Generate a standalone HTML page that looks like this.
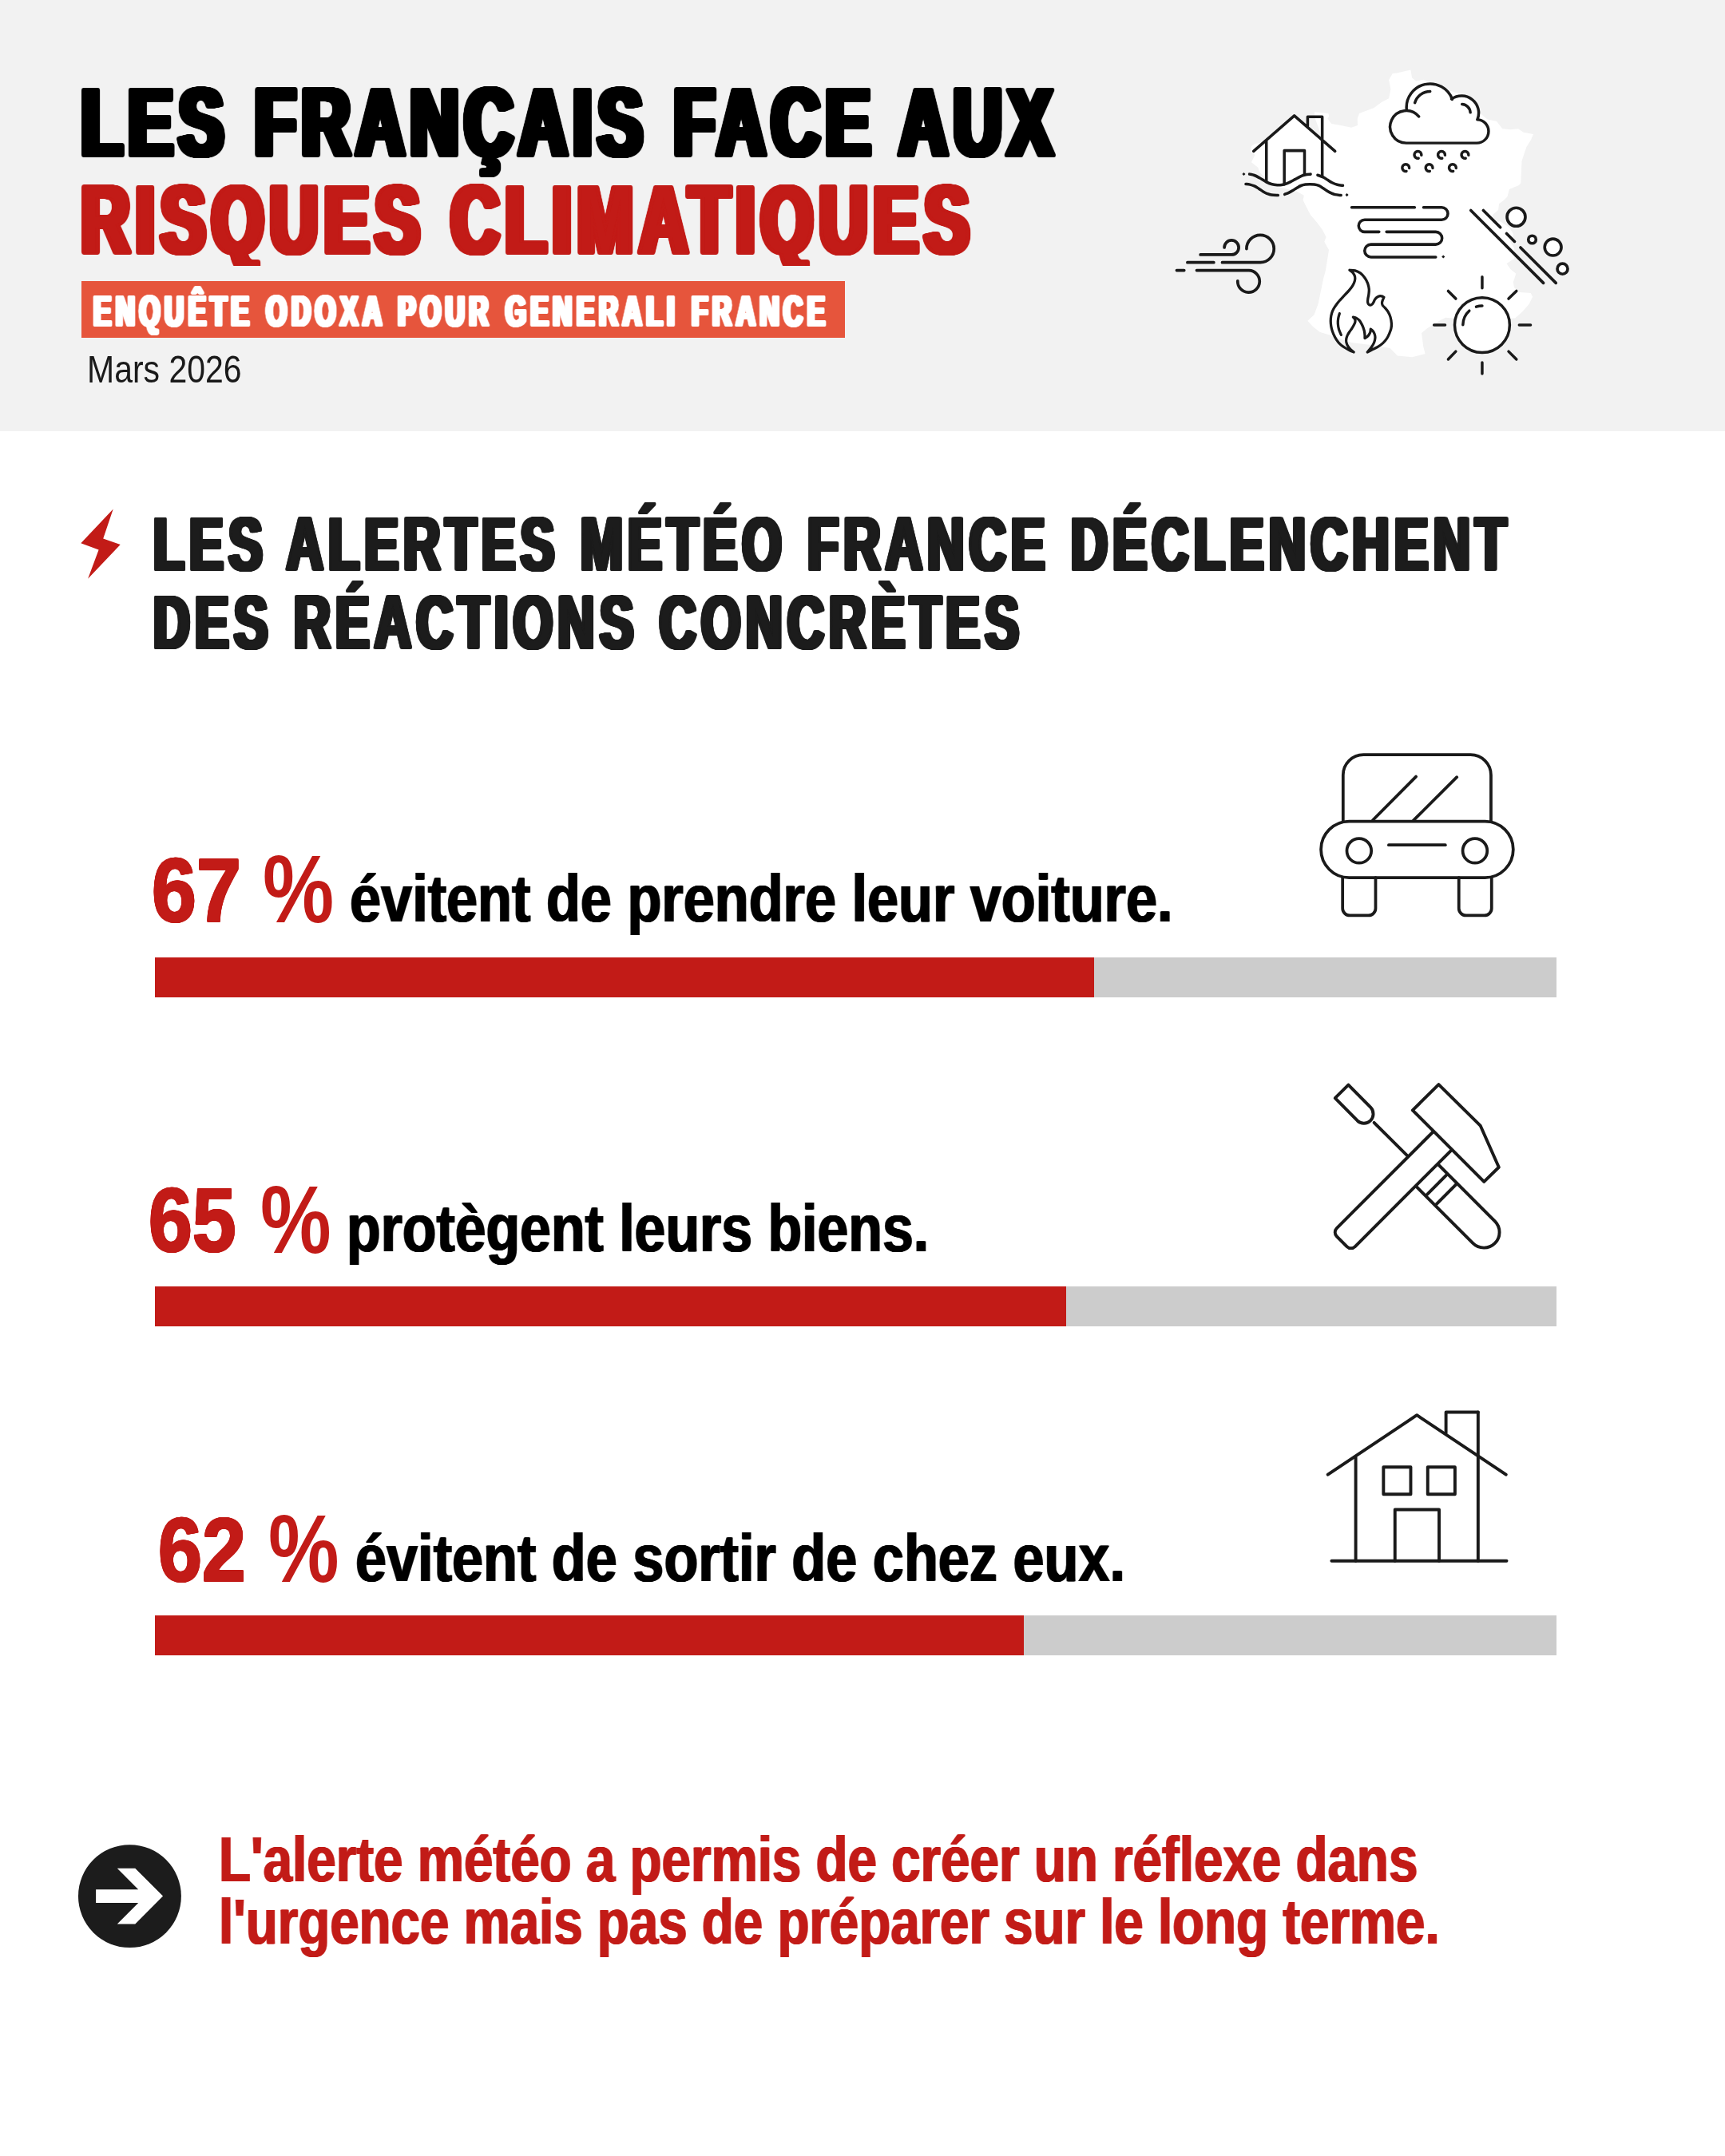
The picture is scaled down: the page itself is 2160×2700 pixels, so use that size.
<!DOCTYPE html>
<html lang="fr"><head><meta charset="utf-8"><title>Les Français face aux risques climatiques</title>
<style>
html,body{margin:0;padding:0;background:#fff}
body{width:2160px;height:2700px;position:relative;overflow:hidden;font-family:"Liberation Sans",sans-serif}
.hdr{position:absolute;left:0;top:0;width:2160px;height:539.5px;background:#F2F2F2}
.t{position:absolute;white-space:pre;transform-origin:0 0;font-family:"Liberation Sans",sans-serif}
.tag{position:absolute;left:102px;top:351.7px;width:955.6px;height:71.3px;background:#E6553C}
.bar{position:absolute;left:193.6px;width:1755.4px;height:50px;background:#CCCCCC}
.bar div{height:100%;background:#C21B17}
svg{position:absolute;overflow:visible}
</style></head><body>
<div class="hdr"></div>
<svg style="left:0;top:0" width="2160" height="540" viewBox="0 0 2160 540" fill="none" stroke="#1A1A1A" stroke-linecap="round" stroke-linejoin="round">
<path fill="#fff" stroke="none" d="M1766.4 87.5 L1768.1 97.4 L1773.3 101.4 L1782.6 99.7 L1789.6 103.2 L1810.0 112.0 L1830.0 118.0 L1845.0 135.0 L1862.6 149.6 L1874.2 151.9 L1881.2 161.2 L1891.6 162.3 L1900.9 161.2 L1907.8 165.8 L1920.0 168.1 L1917.1 175.1 L1911.3 184.3 L1905.5 201.7 L1904.3 229.6 L1901.4 232.3 L1889.9 237.0 L1887.5 246.2 L1883.9 250.0 L1877.0 255.2 L1876.1 263.0 L1869.1 269.1 L1868.3 280.4 L1878.0 277.0 L1890.0 284.8 L1895.2 293.5 L1890.9 302.2 L1896.1 310.9 L1896.1 323.9 L1886.5 330.0 L1891.3 337.0 L1898.3 342.8 L1894.8 353.2 L1895.9 360.1 L1902.9 365.9 L1916.8 367.1 L1919.1 371.7 L1914.5 381.0 L1906.4 390.3 L1897.1 398.4 L1860.0 400.0 L1819.4 398.4 L1810.1 397.8 L1803.2 401.3 L1787.0 411.2 L1780.0 417.0 L1782.3 434.3 L1784.6 443.0 L1768.4 447.2 L1749.9 445.4 L1740.6 436.1 L1712.8 431.4 L1691.9 429.1 L1666.4 419.9 L1652.5 415.7 L1643.2 408.3 L1637.4 401.8 L1645.5 394.3 L1650.6 380.4 L1657.1 349.1 L1659.9 338.7 L1664.0 313.0 L1658.3 302.8 L1660.6 297.0 L1655.9 287.7 L1649.0 278.4 L1640.9 269.1 L1636.2 259.9 L1631.6 250.6 L1632.8 244.8 L1623.5 239.5 L1592.0 232.0 L1577.1 215.3 L1575.3 209.8 L1566.9 203.3 L1571.5 194.0 L1566.0 189.4 L1566.9 182.9 L1571.5 180.1 L1600.0 176.0 L1630.0 172.0 L1654.1 170.8 L1651.3 160.6 L1646.7 148.6 L1645.8 140.2 L1663.4 142.1 L1664.3 145.8 L1662.4 148.6 L1667.1 155.0 L1679.1 156.9 L1692.1 159.7 L1700.0 156.9 L1699.7 148.8 L1702.0 141.9 L1720.6 134.9 L1729.9 128.0 L1739.1 123.3 L1741.4 111.7 L1739.1 100.1 L1743.8 92.0 L1749.0 91.6Z"/>
<g transform="translate(1720 80) scale(0.115942)" stroke-width="30"><path d="M353 855A175 175 0 0 1 353 505L356 492L356.0 492.2A255 255 0 0 1 849.6 382.8L841.3 380.3A185 185 0 0 1 1121.5 599.3L1119.4 601.1A127 127 0 0 1 1115.0 855.0Z" fill="#fff" stroke="none"/><path d="M353.0 855.0A175 175 0 1 1 488.2 568.9 M356.0 492.2A255 255 0 0 1 849.6 382.8 M841.3 380.3A185 185 0 0 1 1121.5 599.3 M1119.4 601.1A127 127 0 0 1 1115.0 855.0L353 855"/><path d="M445.5 419.7A172 172 0 0 1 610.0 298.0 M955.0 435.1A95 95 0 0 1 1044.9 525.0"/><path d="M515.9 985.3A38 38 0 1 0 484.6 1019.4"/><path d="M770.9 985.3A38 38 0 1 0 739.6 1019.4"/><path d="M1024.9 985.3A38 38 0 1 0 993.6 1019.4"/><path d="M384.9 1125.3A38 38 0 1 0 353.6 1159.4"/><path d="M637.9 1125.3A38 38 0 1 0 606.6 1159.4"/><path d="M890.9 1125.3A38 38 0 1 0 859.6 1159.4"/></g>
<g transform="translate(1780 330) scale(0.115942)" stroke-width="30"><circle cx="655" cy="665" r="297" fill="#fff"/><path d="M655 145V265M655 1070V1190M135 665H255M1055 665H1178M288 297L370 380M1025 297L940 380M288 1035L370 950M1025 1035L940 950"/><path d="M447.0 661.4A208 208 0 0 1 515.8 510.4 M590.7 467.2A208 208 0 0 1 655.0 457.0"/></g>
<g transform="translate(1830 250) scale(0.086957)" stroke-width="42"><path d="M135 155L1180 1200M315 155L560 400M650 488L765 603M850 690L1360 1200"/><circle cx="788" cy="250" r="132" fill="#fff"/><circle cx="1018" cy="575" r="55" fill="#fff"/><circle cx="1318" cy="685" r="120" fill="#fff"/><circle cx="1455" cy="997" r="75" fill="#fff"/></g>
<g transform="translate(1680 240) scale(0.092754)" stroke-width="38"><path d="M135 213H985M1105 213H1350A84 84 0 0 1 1350 381H310A81 81 0 0 0 310 543H505M605 543H1270A85 85 0 0 1 1270 713H395A85 85 0 0 0 395 883H1270"/><path d="M1372 856l22 22l-22 22l-22-22Z" fill="#1A1A1A" stroke="none"/></g>
<g transform="translate(1460 280) scale(0.092754)" stroke-width="40"><path d="M465 420H885A97 97 0 1 0 788 323M290 525H645M760 525H1275A185 185 0 1 0 1088 340M145 632H245M415 632H1120A148 148 0 1 1 968 775"/></g>
<g transform="translate(1540 130) scale(0.092754)" stroke-width="38"><path d="M493 500L870 175L1247 500L1247 985L1090 950L1040 953L990 965L935 990L880 1020L820 1052L760 1080L700 1095L640 1097L560 1083L493 1055Z" fill="#fff" stroke="none"/><path d="M320 640L870 160L1420 640M493 500V1055M1247 175V970M1050 300V175H1247M735 1085V632H1008V948" /><path d="M265.0 950.0C275.8 952.5 307.5 956.7 330.0 965.0C352.5 973.3 372.8 985.0 400.0 1000.0C427.2 1015.0 466.3 1041.2 493.0 1055.0C519.7 1068.8 535.5 1076.0 560.0 1083.0C584.5 1090.0 616.7 1095.0 640.0 1097.0C663.3 1099.0 680.0 1097.8 700.0 1095.0C720.0 1092.2 740.0 1087.2 760.0 1080.0C780.0 1072.8 800.0 1062.0 820.0 1052.0C840.0 1042.0 860.8 1030.3 880.0 1020.0C899.2 1009.7 916.7 999.2 935.0 990.0C953.3 980.8 972.5 971.2 990.0 965.0C1007.5 958.8 1023.3 955.5 1040.0 953.0C1056.7 950.5 1081.7 950.5 1090.0 950.0 M1185.0 962.0C1197.5 966.7 1237.5 979.0 1260.0 990.0C1282.5 1001.0 1300.0 1015.5 1320.0 1028.0C1340.0 1040.5 1358.3 1054.3 1380.0 1065.0C1401.7 1075.7 1425.8 1085.7 1450.0 1092.0C1474.2 1098.3 1512.5 1101.2 1525.0 1103.0 M215.0 1083.0C224.2 1084.2 250.8 1085.5 270.0 1090.0C289.2 1094.5 310.0 1100.8 330.0 1110.0C350.0 1119.2 370.0 1132.5 390.0 1145.0C410.0 1157.5 430.8 1173.7 450.0 1185.0C469.2 1196.3 486.7 1205.5 505.0 1213.0C523.3 1220.5 535.8 1226.3 560.0 1230.0C584.2 1233.7 635.0 1234.2 650.0 1235.0 M740.0 1222.0C749.2 1218.3 776.7 1208.7 795.0 1200.0C813.3 1191.3 831.7 1180.8 850.0 1170.0C868.3 1159.2 886.7 1145.8 905.0 1135.0C923.3 1124.2 940.8 1112.5 960.0 1105.0C979.2 1097.5 1000.0 1093.3 1020.0 1090.0C1040.0 1086.7 1060.0 1085.0 1080.0 1085.0C1100.0 1085.0 1120.0 1086.7 1140.0 1090.0C1160.0 1093.3 1180.0 1096.7 1200.0 1105.0C1220.0 1113.3 1240.0 1127.5 1260.0 1140.0C1280.0 1152.5 1301.7 1168.8 1320.0 1180.0C1338.3 1191.2 1353.3 1199.5 1370.0 1207.0C1386.7 1214.5 1398.3 1220.3 1420.0 1225.0C1441.7 1229.7 1486.7 1233.3 1500.0 1235.0"/><path d="M188 926l22 22l-22 22l-22-22ZM1580 1208l22 22l-22 22l-22-22Z" fill="#1A1A1A" stroke="none"/></g>
<g transform="translate(1640 320) scale(0.081160)" stroke-width="40"><path d="M615.0 225.0C629.2 226.2 672.5 224.5 700.0 232.0C727.5 239.5 755.0 251.2 780.0 270.0C805.0 288.8 830.8 318.3 850.0 345.0C869.2 371.7 884.2 400.8 895.0 430.0C905.8 459.2 912.5 491.7 915.0 520.0C917.5 548.3 913.0 575.0 910.0 600.0C907.0 625.0 899.5 650.0 897.0 670.0C894.5 690.0 892.8 705.8 895.0 720.0C897.2 734.2 903.3 747.5 910.0 755.0C916.7 762.5 925.8 765.8 935.0 765.0C944.2 764.2 956.7 757.5 965.0 750.0C973.3 742.5 978.3 731.7 985.0 720.0C991.7 708.3 997.5 691.7 1005.0 680.0C1012.5 668.3 1020.8 658.3 1030.0 650.0C1039.2 641.7 1050.0 634.2 1060.0 630.0C1070.0 625.8 1080.0 625.0 1090.0 625.0C1100.0 625.0 1110.8 626.7 1120.0 630.0C1129.2 633.3 1140.8 642.5 1145.0 645.0 M1145.0 645.0C1141.7 652.5 1130.0 675.8 1125.0 690.0C1120.0 704.2 1115.0 716.7 1115.0 730.0C1115.0 743.3 1117.5 757.5 1125.0 770.0C1132.5 782.5 1145.8 788.3 1160.0 805.0C1174.2 821.7 1195.8 845.8 1210.0 870.0C1224.2 894.2 1236.3 920.0 1245.0 950.0C1253.7 980.0 1260.3 1020.0 1262.0 1050.0C1263.7 1080.0 1260.3 1105.0 1255.0 1130.0C1249.7 1155.0 1240.8 1175.0 1230.0 1200.0C1219.2 1225.0 1206.7 1255.0 1190.0 1280.0C1173.3 1305.0 1153.3 1328.3 1130.0 1350.0C1106.7 1371.7 1078.3 1392.5 1050.0 1410.0C1021.7 1427.5 986.7 1441.7 960.0 1455.0C933.3 1468.3 901.7 1484.2 890.0 1490.0 M615.0 225.0C624.2 232.5 656.2 252.5 670.0 270.0C683.8 287.5 693.8 310.0 698.0 330.0C702.2 350.0 700.5 368.3 695.0 390.0C689.5 411.7 679.2 435.8 665.0 460.0C650.8 484.2 632.5 508.3 610.0 535.0C587.5 561.7 553.3 595.0 530.0 620.0C506.7 645.0 488.3 664.2 470.0 685.0C451.7 705.8 436.7 722.5 420.0 745.0C403.3 767.5 383.3 795.8 370.0 820.0C356.7 844.2 347.5 865.0 340.0 890.0C332.5 915.0 327.5 943.3 325.0 970.0C322.5 996.7 322.8 1023.3 325.0 1050.0C327.2 1076.7 331.3 1103.3 338.0 1130.0C344.7 1156.7 353.0 1182.5 365.0 1210.0C377.0 1237.5 392.5 1268.3 410.0 1295.0C427.5 1321.7 448.3 1349.2 470.0 1370.0C491.7 1390.8 516.7 1405.0 540.0 1420.0C563.3 1435.0 586.7 1448.3 610.0 1460.0C633.3 1471.7 668.3 1485.0 680.0 1490.0 M680.0 1490.0C671.7 1483.3 645.0 1465.0 630.0 1450.0C615.0 1435.0 600.8 1418.3 590.0 1400.0C579.2 1381.7 569.2 1360.0 565.0 1340.0C560.8 1320.0 561.7 1299.2 565.0 1280.0C568.3 1260.8 576.7 1242.5 585.0 1225.0C593.3 1207.5 604.2 1191.7 615.0 1175.0C625.8 1158.3 639.2 1141.7 650.0 1125.0C660.8 1108.3 671.7 1090.8 680.0 1075.0C688.3 1059.2 696.7 1044.2 700.0 1030.0C703.3 1015.8 705.0 1003.3 700.0 990.0C695.0 976.7 675.0 956.7 670.0 950.0 M670.0 950.0C678.3 952.5 704.2 956.7 720.0 965.0C735.8 973.3 751.7 985.0 765.0 1000.0C778.3 1015.0 790.0 1036.7 800.0 1055.0C810.0 1073.3 817.8 1090.8 825.0 1110.0C832.2 1129.2 838.8 1150.0 843.0 1170.0C847.2 1190.0 848.8 1212.5 850.0 1230.0C851.2 1247.5 850.0 1267.5 850.0 1275.0 M850.0 1275.0C855.8 1271.7 874.2 1264.2 885.0 1255.0C895.8 1245.8 906.7 1232.5 915.0 1220.0C923.3 1207.5 930.8 1194.2 935.0 1180.0C939.2 1165.8 939.2 1142.5 940.0 1135.0 M940.0 1135.0C945.8 1140.0 965.0 1152.5 975.0 1165.0C985.0 1177.5 994.2 1194.2 1000.0 1210.0C1005.8 1225.8 1009.5 1243.3 1010.0 1260.0C1010.5 1276.7 1007.2 1293.3 1003.0 1310.0C998.8 1326.7 993.0 1343.3 985.0 1360.0C977.0 1376.7 965.8 1394.2 955.0 1410.0C944.2 1425.8 930.8 1441.7 920.0 1455.0C909.2 1468.3 895.0 1484.2 890.0 1490.0 M460.0 895.0C456.7 907.5 444.2 944.2 440.0 970.0C435.8 995.8 433.3 1021.7 435.0 1050.0C436.7 1078.3 441.7 1110.8 450.0 1140.0C458.3 1169.2 479.2 1210.8 485.0 1225.0"/></g>
</svg>
<div class="tag"></div>
<div class="t" style="left:102.32px;top:93.59px;font-size:120.72px;line-height:120.72px;font-weight:700;color:#000;transform:scaleX(0.6900);letter-spacing:11.293px;word-spacing:1.449px;filter:drop-shadow(1px 0 0 #000) drop-shadow(-1px 0 0 #000) drop-shadow(3px 0 0 #000) drop-shadow(-3px 0 0 #000) drop-shadow(2px 0 0 #000) drop-shadow(-2px 0 0 #000) drop-shadow(0 1px 0 #000) drop-shadow(0 -1px 0 #000) drop-shadow(0 1px 0 #000) drop-shadow(0 -1px 0 #000)">LES FRANÇAIS FACE AUX</div>
<div class="t" style="left:102.32px;top:215.15px;font-size:120.29px;line-height:120.29px;font-weight:700;color:#C21B17;transform:scaleX(0.6900);letter-spacing:11.992px;filter:drop-shadow(1px 0 0 #C21B17) drop-shadow(-1px 0 0 #C21B17) drop-shadow(3px 0 0 #C21B17) drop-shadow(-3px 0 0 #C21B17) drop-shadow(2px 0 0 #C21B17) drop-shadow(-2px 0 0 #C21B17) drop-shadow(0 1px 0 #C21B17) drop-shadow(0 -1px 0 #C21B17) drop-shadow(0 1px 0 #C21B17) drop-shadow(0 -1px 0 #C21B17);clip-path:inset(-10px -30px 2.5px -30px)">RISQUES CLIMATIQUES</div>
<div class="t" style="left:117.20px;top:362.56px;font-size:54.49px;line-height:54.49px;font-weight:700;color:#fff;transform:scaleX(0.6100);letter-spacing:9.315px;word-spacing:1.639px;filter:drop-shadow(1px 0 0 #fff) drop-shadow(-1px 0 0 #fff) drop-shadow(2px 0 0 #fff) drop-shadow(-2px 0 0 #fff) drop-shadow(0 1px 0 #fff) drop-shadow(0 -1px 0 #fff)">ENQUÊTE ODOXA POUR GENERALI FRANCE</div>
<div class="t" style="left:108.82px;top:437.98px;font-size:48.55px;line-height:48.55px;font-weight:400;color:#1A1A1A;transform:scaleX(0.8439)">Mars 2026</div>
<div class="t" style="left:192.25px;top:635.40px;font-size:94.2px;line-height:94.2px;font-weight:700;color:#1C1C1C;transform:scaleX(0.6750);letter-spacing:9.570px;word-spacing:2.963px;filter:drop-shadow(1px 0 0 #1C1C1C) drop-shadow(-1px 0 0 #1C1C1C) drop-shadow(3px 0 0 #1C1C1C) drop-shadow(-3px 0 0 #1C1C1C) drop-shadow(0 1px 0 #1C1C1C) drop-shadow(0 -1px 0 #1C1C1C)">LES ALERTES MÉTÉO FRANCE DÉCLENCHENT</div>
<div class="t" style="left:192.25px;top:733.35px;font-size:93.91px;line-height:93.91px;font-weight:700;color:#1C1C1C;transform:scaleX(0.6750);letter-spacing:9.620px;word-spacing:2.963px;filter:drop-shadow(1px 0 0 #1C1C1C) drop-shadow(-1px 0 0 #1C1C1C) drop-shadow(3px 0 0 #1C1C1C) drop-shadow(-3px 0 0 #1C1C1C) drop-shadow(0 1px 0 #1C1C1C) drop-shadow(0 -1px 0 #1C1C1C)">DES RÉACTIONS CONCRÈTES</div>
<div class="t" style="left:189.85px;top:1057.86px;font-size:113.66px;line-height:113.66px;font-weight:700;color:#C21B17;transform:scaleX(0.8842);filter:drop-shadow(1px 0 0 #C21B17) drop-shadow(-1px 0 0 #C21B17) drop-shadow(0 1px 0 #C21B17) drop-shadow(0 -1px 0 #C21B17)">67</div>
<div class="t" style="left:328.50px;top:1054.32px;font-size:120.57px;line-height:120.57px;font-weight:700;color:#C21B17;transform:scaleX(0.8317)">%</div>
<div class="t" style="left:438.01px;top:1083.60px;font-size:83.31px;line-height:83.31px;font-weight:700;color:#000;transform:scaleX(0.8433);filter:drop-shadow(1px 0 0 #000) drop-shadow(-1px 0 0 #000)">évitent de prendre leur voiture.</div>
<div class="t" style="left:186.40px;top:1471.26px;font-size:113.66px;line-height:113.66px;font-weight:700;color:#C21B17;transform:scaleX(0.8672);filter:drop-shadow(1px 0 0 #C21B17) drop-shadow(-1px 0 0 #C21B17) drop-shadow(0 1px 0 #C21B17) drop-shadow(0 -1px 0 #C21B17)">65</div>
<div class="t" style="left:325.62px;top:1467.72px;font-size:120.57px;line-height:120.57px;font-weight:700;color:#C21B17;transform:scaleX(0.8267)">%</div>
<div class="t" style="left:434.35px;top:1497.10px;font-size:83.31px;line-height:83.31px;font-weight:700;color:#000;transform:scaleX(0.8379);filter:drop-shadow(1px 0 0 #000) drop-shadow(-1px 0 0 #000)">protègent leurs biens.</div>
<div class="t" style="left:197.99px;top:1883.56px;font-size:113.66px;line-height:113.66px;font-weight:700;color:#C21B17;transform:scaleX(0.8692);filter:drop-shadow(1px 0 0 #C21B17) drop-shadow(-1px 0 0 #C21B17) drop-shadow(0 1px 0 #C21B17) drop-shadow(0 -1px 0 #C21B17)">62</div>
<div class="t" style="left:335.82px;top:1880.02px;font-size:120.57px;line-height:120.57px;font-weight:700;color:#C21B17;transform:scaleX(0.8257)">%</div>
<div class="t" style="left:444.71px;top:1909.60px;font-size:83.31px;line-height:83.31px;font-weight:700;color:#000;transform:scaleX(0.8431);filter:drop-shadow(1px 0 0 #000) drop-shadow(-1px 0 0 #000)">évitent de sortir de chez eux.</div>
<div class="t" style="left:273.85px;top:2288.41px;font-size:80.58px;line-height:80.58px;font-weight:700;color:#C21B17;transform:scaleX(0.8131);filter:drop-shadow(1px 0 0 #C21B17) drop-shadow(-1px 0 0 #C21B17)">L'alerte météo a permis de créer un réflexe dans</div>
<div class="t" style="left:273.85px;top:2366.31px;font-size:80.58px;line-height:80.58px;font-weight:700;color:#C21B17;transform:scaleX(0.8122);filter:drop-shadow(1px 0 0 #C21B17) drop-shadow(-1px 0 0 #C21B17)">l'urgence mais pas de préparer sur le long terme.</div>
<div class="bar" style="top:1199.3px"><div style="width:67%"></div></div>
<div class="bar" style="top:1611.0px"><div style="width:65%"></div></div>
<div class="bar" style="top:2023.0px"><div style="width:62%"></div></div>
<svg style="left:0;top:0" width="2160" height="2700" viewBox="0 0 2160 2700"><polygon fill="#C21B17" points="141.7,637.6 101.3,680.3 123.6,688.6 110.1,724.8 150.7,681.9 129.2,674.5"/></svg>

<svg style="left:1640px;top:930px" width="270" height="230" viewBox="0 0 1725 1469.4" fill="none" stroke="#1A1A1A" stroke-width="24" stroke-linecap="round" stroke-linejoin="round">
<path d="M267 630V260A163 163 0 0 1 430 97H1287A163 163 0 0 1 1450 260V630"/>
<rect x="90" y="630" width="1538" height="450" rx="225" ry="225"/>
<circle cx="395" cy="865" r="98"/><circle cx="1322" cy="865" r="98"/>
<path d="M632 819H1085"/>
<path d="M850 272L505 620M1177 276L830 622"/>
<path d="M263 1080V1325A58 58 0 0 0 321 1383H469A58 58 0 0 0 527 1325V1080"/>
<path d="M1193 1080V1325A58 58 0 0 0 1251 1383H1397A58 58 0 0 0 1455 1325V1080"/>
</svg>

<svg style="left:1650px;top:1340px" width="250" height="240" viewBox="0 0 1725 1656" fill="none" stroke="#1A1A1A" stroke-width="27" stroke-linecap="round" stroke-linejoin="round">
<path d="M265 128L150 243L343 438A81 81 0 0 0 458 324Z"/>
<path d="M487 455L778 745"/>
<path d="M998 533L164.4 1366.6A50 50 0 0 0 164.4 1437.4L252.1 1525.1A50 50 0 0 0 322.9 1525.1L1152 696"/>
<path d="M1045 125L820 348L1437 965L1565 840L1405 480Z"/>
<path d="M1040 815L1531 1307A134 134 0 0 1 1341 1497L850 1005"/>
<path d="M1115 905L945 1075M1195 990L1025 1160"/>
</svg>

<svg style="left:1640px;top:1750px" width="270" height="230" viewBox="0 0 1725 1469.4" fill="none" stroke="#1A1A1A" stroke-width="25" stroke-linecap="round" stroke-linejoin="round">
<path d="M145 618L857 142L1570 618"/>
<path d="M368 480V1308M1347 118V1308"/>
<path d="M1090 285V118H1347"/>
<path d="M175 1308H1575"/>
<rect x="590" y="557" width="218" height="218"/><rect x="944" y="557" width="218" height="218"/>
<path d="M682 1308V898H1035V1308"/>
</svg>

<svg style="left:80px;top:2280px" width="400" height="200" viewBox="0 0 1725 862.5">
<circle cx="355.5" cy="408" r="278" fill="#1C1C1C"/>
<polygon fill="#fff" points="288,258 385,258 535,408 385,558 288,558 402,444 173,444 173,372 402,372"/>
</svg>

</body></html>
